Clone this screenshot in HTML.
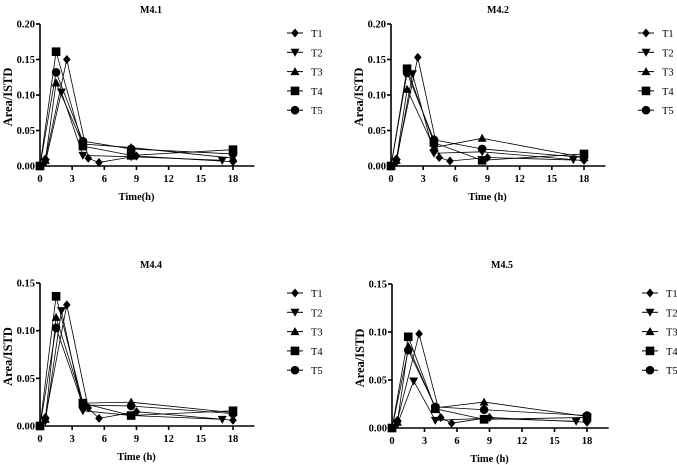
<!DOCTYPE html>
<html><head><meta charset="utf-8">
<style>
body{margin:0;background:#fff;width:677px;height:465px;overflow:hidden}
svg{display:block;font-family:"Liberation Serif",serif}
</style></head>
<body>
<svg id="chart" width="677" height="465" xmlns="http://www.w3.org/2000/svg"></svg>
<script>
const panelTitles = ["M4.1","M4.2","M4.4","M4.5"];
const seriesNames = ["T1","T2","T3","T4","T5"];
const t1Times = [0,0.5,2.5,4.5,5.5,9,18];
const t2Times = [0,0.5,2,4,8.5,17];
const t3Times = [0,0.5,1.5,4,8.5,18];
const t4Times = [0,1.5,4,8.5,18];
const t5Times = [0,1.5,4,8.5,18];
const m41 = [
  [0,0.010,0.150,0.011,0.005,0.014,0.006],
  [0,0.005,0.104,0.015,0.013,0.008],
  [0,0.008,0.117,0.031,0.026,0.011],
  [0,0.161,0.028,0.015,0.023],
  [0,0.132,0.035,0.024,0.017]];
const m42 = [
  [0,0.010,0.153,0.012,0.007,0.012,0.008],
  [0,0.005,0.130,0.018,0.020,0.009],
  [0,0.008,0.108,0.026,0.039,0.012],
  [0,0.137,0.033,0.008,0.017],
  [0,0.131,0.037,0.024,0.012]];
const m44 = [
  [0,0.009,0.127,0.019,0.008,0.015,0.006],
  [0,0.005,0.121,0.016,0.011,0.007],
  [0,0.007,0.114,0.024,0.025,0.014],
  [0,0.136,0.024,0.011,0.016],
  [0,0.103,0.022,0.021,0.013]];
const m45 = [
  [0,0.008,0.098,0.011,0.005,0.011,0.006],
  [0,0.004,0.049,0.008,0.010,0.007],
  [0,0.006,0.085,0.021,0.027,0.012],
  [0,0.095,0.020,0.009,0.011],
  [0,0.081,0.022,0.019,0.013]];
const xTicks = [0,3,6,9,12,15,18];
const yTicksA = [0,0.05,0.10,0.15,0.20];
const yTicksB = [0,0.05,0.10,0.15];
const xLabels = ["Time(h)","Time (h)","Time (h)","Time (h)"];

const allTimes=[t1Times,t2Times,t3Times,t4Times,t5Times];
const panelData=[m41,m42,m44,m45];
const panelTicks=[yTicksA,yTicksA,yTicksB,yTicksB];
const layout=[
 {x0:40,x18:233,yTop:24,yBot:166,title:[151,13],legX:287,legY:33,xlab:200},
 {x0:391,x18:584,yTop:24,yBot:166,title:[498,13],legX:638,legY:33,xlab:200},
 {x0:40,x18:233,yTop:283,yBot:426,title:[151,268],legX:287,legY:293,xlab:460},
 {x0:392,x18:587,yTop:284,yBot:428,title:[502,268],legX:642,legY:293,xlab:462}];
const NS="http://www.w3.org/2000/svg";
const svg=document.getElementById('chart');
function mk(tag,attrs,parent,txt){const e=document.createElementNS(NS,tag);for(const k in attrs)e.setAttribute(k,attrs[k]);if(txt!==undefined)e.textContent=txt;parent.appendChild(e);return e;}
function marker(shape,cx,cy,g){
  let e;
  if(shape===0)e=mk('polygon',{points:`${cx},${cy-4.5} ${cx+3.8},${cy} ${cx},${cy+4.5} ${cx-3.8},${cy}`,fill:'#000'},g);
  else if(shape===1)e=mk('polygon',{points:`${cx-4.5},${cy-3.5} ${cx+4.5},${cy-3.5} ${cx},${cy+4.5}`,fill:'#000'},g);
  else if(shape===2)e=mk('polygon',{points:`${cx-4.5},${cy+3.5} ${cx+4.5},${cy+3.5} ${cx},${cy-4.5}`,fill:'#000'},g);
  else if(shape===3)e=mk('rect',{x:cx-4.3,y:cy-4.3,width:8.6,height:8.6,fill:'#000'},g);
  else e=mk('circle',{cx:cx,cy:cy,r:4.3,fill:'#000'},g);
  return e;
}
panelData.forEach((data,p)=>{
  const L=layout[p];const ticks=panelTicks[p];const ymax=ticks[ticks.length-1];
  const xs=t=>L.x0+(L.x18-L.x0)*t/18;
  const ys=v=>L.yBot-(L.yBot-L.yTop)*v/ymax;
  const g=mk('g',{},svg);
  
  
  const tt=mk('text',{x:L.title[0],y:L.title[1],'text-anchor':'middle','font-size':10,'font-weight':'bold'},g,panelTitles[p]);
  
  const ax=mk('g',{stroke:'#000','stroke-width':1.6},g);
  
  mk('line',{x1:L.x0,y1:L.yTop,x2:L.x0,y2:L.yBot},ax);
  mk('line',{x1:L.x0,y1:L.yBot,x2:xs(20),y2:L.yBot},ax);
  ticks.forEach(v=>{
    mk('line',{x1:L.x0-4,y1:ys(v),x2:L.x0,y2:ys(v)},ax);
    const t=mk('text',{x:L.x0-5,y:ys(v)+3.5,'text-anchor':'end','font-size':10.5,'font-weight':'bold'},g,v.toFixed(2));
    
  });
  xTicks.forEach(v=>{
    mk('line',{x1:xs(v),y1:L.yBot,x2:xs(v),y2:L.yBot+4},ax);
    const t=mk('text',{x:xs(v),y:L.yBot+16,'text-anchor':'middle','font-size':10.5,'font-weight':'bold'},g,String(v));
    
  });
  const xl=mk('text',{x:(L.x0+L.x18)/2,y:L.xlab,'text-anchor':'middle','font-size':10.5,'font-weight':'bold'},g,xLabels[p]);
  
  const cy=(L.yTop+L.yBot)/2+2;
  const yx=L.x0-28;
  const yl=mk('text',{x:yx,y:cy,transform:`rotate(-90 ${yx} ${cy})`,'text-anchor':'middle','font-size':12.5,'font-weight':'bold'},g,'Area/ISTD');
  
  data.forEach((vals,s)=>{
    const sg=mk('g',{},g);
    
    
    const pts=vals.map((v,i)=>xs(allTimes[s][i])+','+ys(v)).join(' ');
    mk('polyline',{points:pts,fill:'none',stroke:'#000','stroke-width':0.8},sg);
    vals.forEach((v,i)=>{const m=marker(s,xs(allTimes[s][i]),ys(v),sg);
      });
    const ly=L.legY+s*19.3;
    const lg=mk('g',{},g);
    
    
    mk('line',{x1:L.legX,y1:ly,x2:L.legX+16,y2:ly,stroke:'#000','stroke-width':1},lg);
    marker(s,L.legX+8,ly,lg);
    mk('text',{x:L.legX+24,y:ly+4,'font-size':10.5},lg,seriesNames[s]);
  });
});
</script>
</body></html>
